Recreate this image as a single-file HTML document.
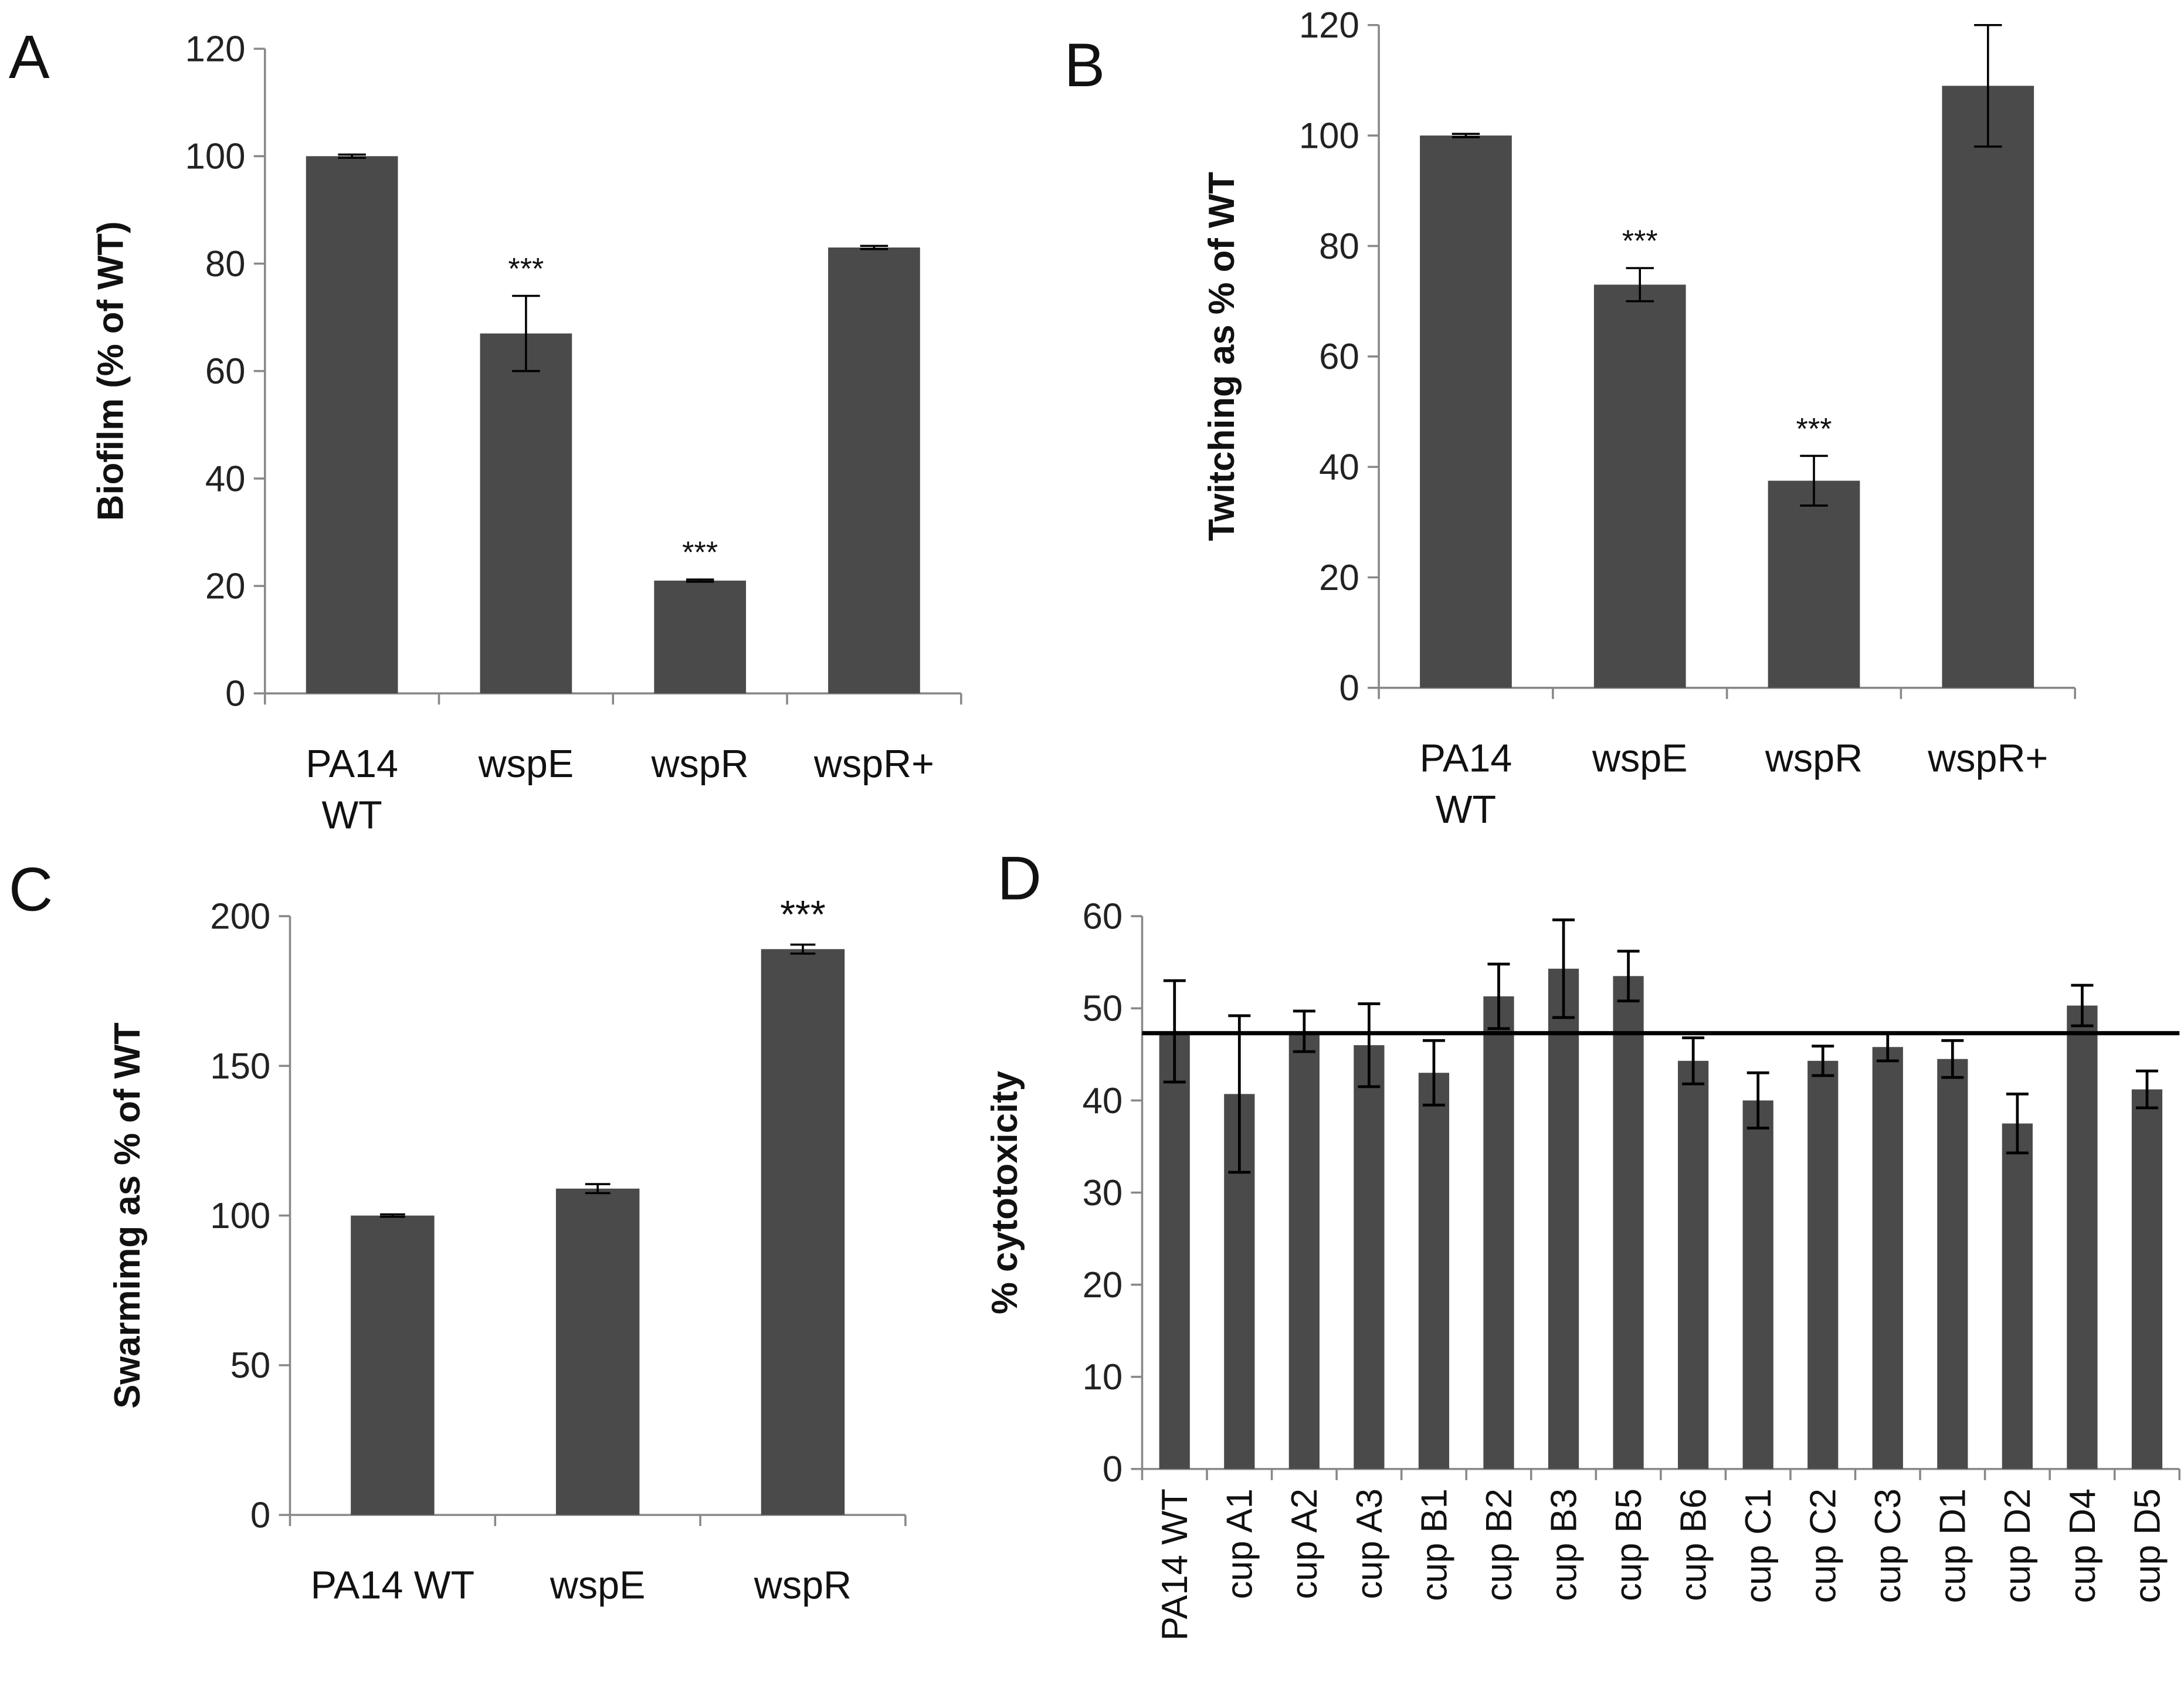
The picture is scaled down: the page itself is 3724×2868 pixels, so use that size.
<!DOCTYPE html>
<html><head><meta charset="utf-8"><style>
html,body{margin:0;padding:0;background:#fff;}
svg{display:block;font-family:"Liberation Sans","DejaVu Sans",sans-serif;}
</style></head><body>
<svg id="fig" width="3724" height="2868" viewBox="0 0 1568 1208" xmlns="http://www.w3.org/2000/svg"></svg>
<script>
// Panel A
const catsA = [["PA14","WT"],["wspE"],["wspR"],["wspR+"]];
const valsA = [100, 67, 21, 83];
const errA = [0.3, 7, 0.2, 0.3];
const starsA = ["", "***", "***", ""];
const ticksA = [0,20,40,60,80,100,120];
// Panel B
const catsB = [["PA14","WT"],["wspE"],["wspR"],["wspR+"]];
const valsB = [100, 73, 37.5, 109];
const errB = [0.3, 3, 4.5, 11];
const starsB = ["", "***", "***", ""];
const ticksB = [0,20,40,60,80,100,120];
// Panel C
const catsC = [["PA14 WT"],["wspE"],["wspR"]];
const valsC = [100, 109, 189];
const errC = [0.4, 1.5, 1.5];
const starsC = ["", "", "***"];
const ticksC = [0,50,100,150,200];
// Panel D
const catsD = ["PA14 WT","cup A1","cup A2","cup A3","cup B1","cup B2","cup B3","cup B5","cup B6","cup C1","cup C2","cup C3","cup D1","cup D2","cup D4","cup D5"];
const valsD = [47.5, 40.7, 47.5, 46, 43, 51.3, 54.3, 53.5, 44.3, 40, 44.3, 45.8, 44.5, 37.5, 50.3, 41.2];
const errD = [5.5, 8.5, 2.2, 4.5, 3.5, 3.5, 5.3, 2.7, 2.5, 3, 1.6, 1.5, 2, 3.2, 2.2, 2];
const refLineD = 47.3;
const ticksD = [0,10,20,30,40,50,60];

const NS="http://www.w3.org/2000/svg";
const svg=document.getElementById('fig');
function mk(tag,attrs,parent){const e=document.createElementNS(NS,tag);for(const k in attrs)e.setAttribute(k,attrs[k]);(parent||svg).appendChild(e);return e;}
function txt(s,attrs,parent){const e=mk('text',attrs,parent);e.textContent=s;return e;}

function panel(p){
  const g=mk('g',{});
  
  
  const y=v=>p.y0-(v-p.ymin)/(p.ymax-p.ymin)*(p.y0-p.y1);
  const n=p.cats.length, cw=(p.x1-p.x0)/n;
  const xc=i=>p.x0+cw*(i+0.5);
  const L=txt(p.letter,{x:p.lx,y:p.ly,'font-size':44,fill:'#111'},g);
  
  
  const ya=mk('line',{x1:p.x0,y1:p.y1,x2:p.x0,y2:p.y0,stroke:'#888','stroke-width':1.5},g);
  
  
  p.ticks.forEach(t=>{
    mk('line',{x1:p.x0-8,x2:p.x0,y1:y(t),y2:y(t),stroke:'#888','stroke-width':1.5},g);
    const tl=txt(String(t),{x:p.x0-14,y:y(t)+9,'text-anchor':'end','font-size':p.tfs,fill:'#222'},g);
    
    
  });
  const xa=mk('line',{x1:p.x0,y1:p.y0,x2:p.x1,y2:p.y0,stroke:'#888','stroke-width':1.5},g);
  
  
  for(let i=0;i<=n;i++){mk('line',{x1:p.x0+cw*i,x2:p.x0+cw*i,y1:p.y0,y2:p.y0+8,stroke:'#888','stroke-width':1.5},g);}
  const tt=txt(p.title,{x:0,y:0,'font-size':p.titfs,'font-weight':'bold',fill:'#111','text-anchor':'middle',transform:`translate(${p.tx},${(p.y0+p.y1)/2}) rotate(-90)`},g);
  
  
  const clipTop=p.y1-2;
  p.vals.forEach((v,i)=>{
    const b=mk('rect',{x:xc(i)-p.bw/2,y:y(v),width:p.bw,height:p.y0-y(v),fill:'#4a4a4a'},g);
    
    
    const e=p.errs[i];
    const top=Math.max(y(v+e),clipTop), bot=y(v-e);
    const eb=mk('g',{stroke:'#000','stroke-width':p.ew},g);
    
    
    mk('line',{x1:xc(i),x2:xc(i),y1:top,y2:bot},eb);
    if(y(v+e)>=clipTop) mk('line',{x1:xc(i)-p.cap,x2:xc(i)+p.cap,y1:top,y2:top},eb);
    mk('line',{x1:xc(i)-p.cap,x2:xc(i)+p.cap,y1:bot,y2:bot},eb);
    if(p.stars&&p.stars[i]){
      const s=txt(p.stars[i],{x:xc(i),y:y(v+e)-12,'text-anchor':'middle','font-size':p.sfs,fill:'#111'},g);
      
      
    }
    const c=p.cats[i];
    if(p.rot){
      const cl=txt(c,{x:0,y:0,'font-size':p.cfs,fill:'#111','text-anchor':'end',transform:`translate(${xc(i)+9},${p.y0+14}) rotate(-90)`},g);
      
      
    } else {
      c.forEach((line,k)=>{
        const cl=txt(line,{x:xc(i),y:p.y0+60+k*37,'text-anchor':'middle','font-size':p.cfs,fill:'#111'},g);
        
        
      });
    }
  });
  if(p.ref!==undefined){
    const r=mk('line',{x1:p.x0,x2:p.x1,y1:y(p.ref),y2:y(p.ref),stroke:'#000','stroke-width':3},g);
    
    
  }
}
panel({id:'a',letter:'A',lx:6,ly:56,x0:190,x1:690,y0:498,y1:35,ymin:0,ymax:120,ticks:ticksA,cats:catsA,vals:valsA,errs:errA,stars:starsA,bw:66,cap:10,ew:1.5,tfs:26,cfs:28,titfs:26,sfs:22,tx:88,title:'Biofilm (% of WT)'});
panel({id:'b',letter:'B',lx:764,ly:62,x0:990,x1:1490,y0:494,y1:18,ymin:0,ymax:120,ticks:ticksB,cats:catsB,vals:valsB,errs:errB,stars:starsB,bw:66,cap:10,ew:1.5,tfs:26,cfs:28,titfs:26,sfs:22,tx:886,title:'Twitching as % of WT'});
panel({id:'c',letter:'C',lx:6,ly:654,x0:208,x1:650,y0:1088,y1:658,ymin:0,ymax:200,ticks:ticksC,cats:catsC,vals:valsC,errs:errC,stars:starsC,bw:60,cap:9,ew:1.5,tfs:26,cfs:28,titfs:26,sfs:28,tx:100,title:'Swarmimg as % of WT'});
panel({id:'d',letter:'D',lx:716,ly:646,x0:820,x1:1565,y0:1055,y1:658,ymin:0,ymax:60,ticks:ticksD,cats:catsD,vals:valsD,errs:errD,bw:22,cap:8,ew:2,tfs:26,cfs:26,titfs:26,sfs:22,tx:730,title:'% cytotoxicity',rot:true,ref:refLineD});
</script>
</body></html>
